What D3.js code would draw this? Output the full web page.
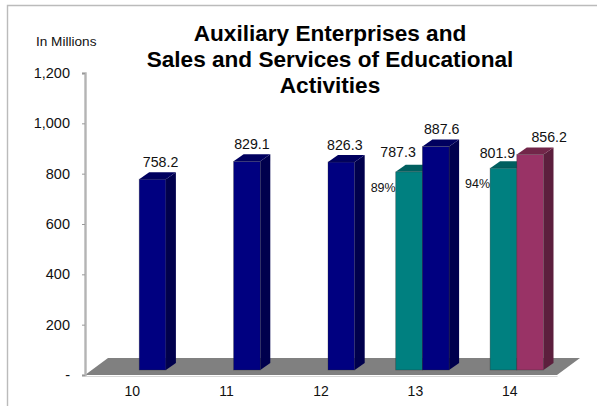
<!DOCTYPE html>
<html>
<head>
<meta charset="utf-8">
<script src="https://cdn.jsdelivr.net/npm/d3@7"></script>
<style>
  html, body { margin: 0; padding: 0; background: #fff; }
  svg { display: block; }
  text { font-family: "Liberation Sans", Arial, sans-serif; fill: #111; }
</style>
</head>
<body>
<svg width="597" height="406"></svg>
<script>
const categories = ["10", "11", "12", "13", "14"]
const titleLines = ["Auxiliary Enterprises and", "Sales and Services of Educational", "Activities"]
const yTicks = [0, 200, 400, 600, 800, 1000, 1200]

const navyValues = [758.2, 829.1, 826.3, 887.6, null]
const tealValues = [null, null, null, 787.3, 801.9]
const maroonValues = [null, null, null, null, 856.2]
const tealPercents = [null, null, null, "89%", "94%"]

// hand placed label nudges, same as in the original slide
const navyNudge = [[8, 12], [5, 12], [3.5, 12], [6, 13], null]
const tealNudge = [null, null, null, [-11, 15], [-6, 10]]
const maroonNudge = [null, null, null, null, [19, 13]]

const series = [
    { slot: "left", values: tealValues, nudge: tealNudge, front: "#008080", side: "#004d4d", top: "#005f5f" },
    { slot: "right", values: navyValues, nudge: navyNudge, front: "#000080", side: "#00004d", top: "#00005f" },
    { slot: "right", values: maroonValues, nudge: maroonNudge, front: "#993366", side: "#5c1f3d", top: "#722649" }
]

const floorDepth = { x: 23, y: 17 }
const barShift = { x: 7, y: -5 }
const barDepth = { x: 10, y: 7 }
const slotWidth = 26.7

const svg = d3.select("svg")
const xScale = d3.scaleBand().domain(categories).range([85, 557])
const yScale = d3.scaleLinear().domain([0, 1200]).range([375, 73])
const slotScale = d3.scaleBand().domain(["left", "right"]).range([-slotWidth, slotWidth])

// frame, only top and left are visible
svg.append("path")
    .attr("d", "M7.5,406V5.5H597")
    .attr("fill", "none")
    .attr("stroke", "#bbb")
    .attr("stroke-width", 1.4)

// floor
const [x0, x1] = xScale.range()
const y0 = yScale(0)
svg.append("polygon")
    .attr("points", [[x0, y0], [x0 + floorDepth.x, y0 - floorDepth.y], [x1 + floorDepth.x, y0 - floorDepth.y], [x1, y0]].join(" "))
    .attr("fill", "#808080")

// axes
const yAxis = d3.axisLeft(yScale)
    .tickValues(yTicks)
    .tickSize(3)
    .tickPadding(12)
    .tickFormat(d => d === 0 ? "-" : d3.format(",")(d))

const yAxisG = svg.append("g")
    .attr("id", "yAxisG")
    .attr("transform", `translate(${x0}, 0)`)
    .call(yAxis)

yAxisG.select("path.domain").attr("stroke", "#b4b4b4").attr("stroke-width", 2.4)
yAxisG.selectAll("line").attr("stroke", "#999")
yAxisG.selectAll("text").style("font-size", "14.5px")

const xAxis = d3.axisBottom(xScale).tickSize(0).tickPadding(11)
const xAxisG = svg.append("g")
    .attr("id", "xAxisG")
    .attr("transform", `translate(0, ${y0})`)
    .call(xAxis)

xAxisG.select("path.domain").attr("stroke", "#d8d8d8").attr("stroke-width", 1.2).attr("transform", "translate(0, 1)")
xAxisG.selectAll("text").style("font-size", "14px")

// bars, left to right so that the sides overlap correctly
const bars = []
categories.forEach((c, i) => {
    series.forEach(s => {
        if (s.values[i] !== null) {
            bars.push({ i, c, value: s.values[i], nudge: s.nudge[i], percent: s.slot === "left" ? tealPercents[i] : null, s })
        }
    })
})

const barG = svg.append("g")
    .attr("id", "bars")
    .attr("transform", `translate(${barShift.x}, ${barShift.y})`)

const barLeft = d => xScale(d.c) + xScale.bandwidth() / 2 + slotScale(d.s.slot)
const barRight = d => barLeft(d) + slotWidth

const oneBar = barG.selectAll("g.bar")
    .data(bars)
    .enter()
    .append("g")
    .attr("class", "bar")

oneBar.append("polygon")
    .attr("points", d => {
        const r = barRight(d), t = yScale(d.value)
        return [[r, t], [r + barDepth.x, t - barDepth.y], [r + barDepth.x, y0 - barDepth.y], [r, y0]].join(" ")
    })
    .attr("fill", d => d.s.side)

oneBar.append("polygon")
    .attr("points", d => {
        const l = barLeft(d), r = barRight(d), t = yScale(d.value)
        return [[l, t], [l + barDepth.x, t - barDepth.y], [r + barDepth.x, t - barDepth.y], [r, t]].join(" ")
    })
    .attr("fill", d => d.s.top)

oneBar.append("rect")
    .attr("x", barLeft)
    .attr("y", d => yScale(d.value))
    .attr("width", slotWidth)
    .attr("height", d => y0 - yScale(d.value))
    .attr("fill", d => d.s.front)
    .attr("stroke", "#2a2a2a")
    .attr("stroke-opacity", 0.45)
    .attr("stroke-width", 0.7)

oneBar.append("text")
    .attr("x", d => barLeft(d) + slotWidth / 2 + d.nudge[0])
    .attr("y", d => yScale(d.value) - d.nudge[1])
    .attr("text-anchor", "middle")
    .style("font-size", "14.2px")
    .text(d => d.value.toFixed(1))

oneBar.filter(d => d.percent)
    .append("text")
    .attr("x", barLeft)
    .attr("y", d => yScale(d.value) + 20)
    .attr("text-anchor", "end")
    .style("font-size", "12.5px")
    .text(d => d.percent)

// title
svg.append("g")
    .selectAll("text")
    .data(titleLines)
    .enter()
    .append("text")
    .attr("x", 330)
    .attr("y", (d, i) => 41 + i * 26)
    .attr("text-anchor", "middle")
    .style("font-size", "22.6px")
    .style("font-weight", "bold")
    .style("fill", "#000")
    .text(d => d)

svg.append("text")
    .attr("x", 36)
    .attr("y", 46)
    .style("font-size", "13.6px")
    .text("In Millions")
</script>
</body>
</html>
